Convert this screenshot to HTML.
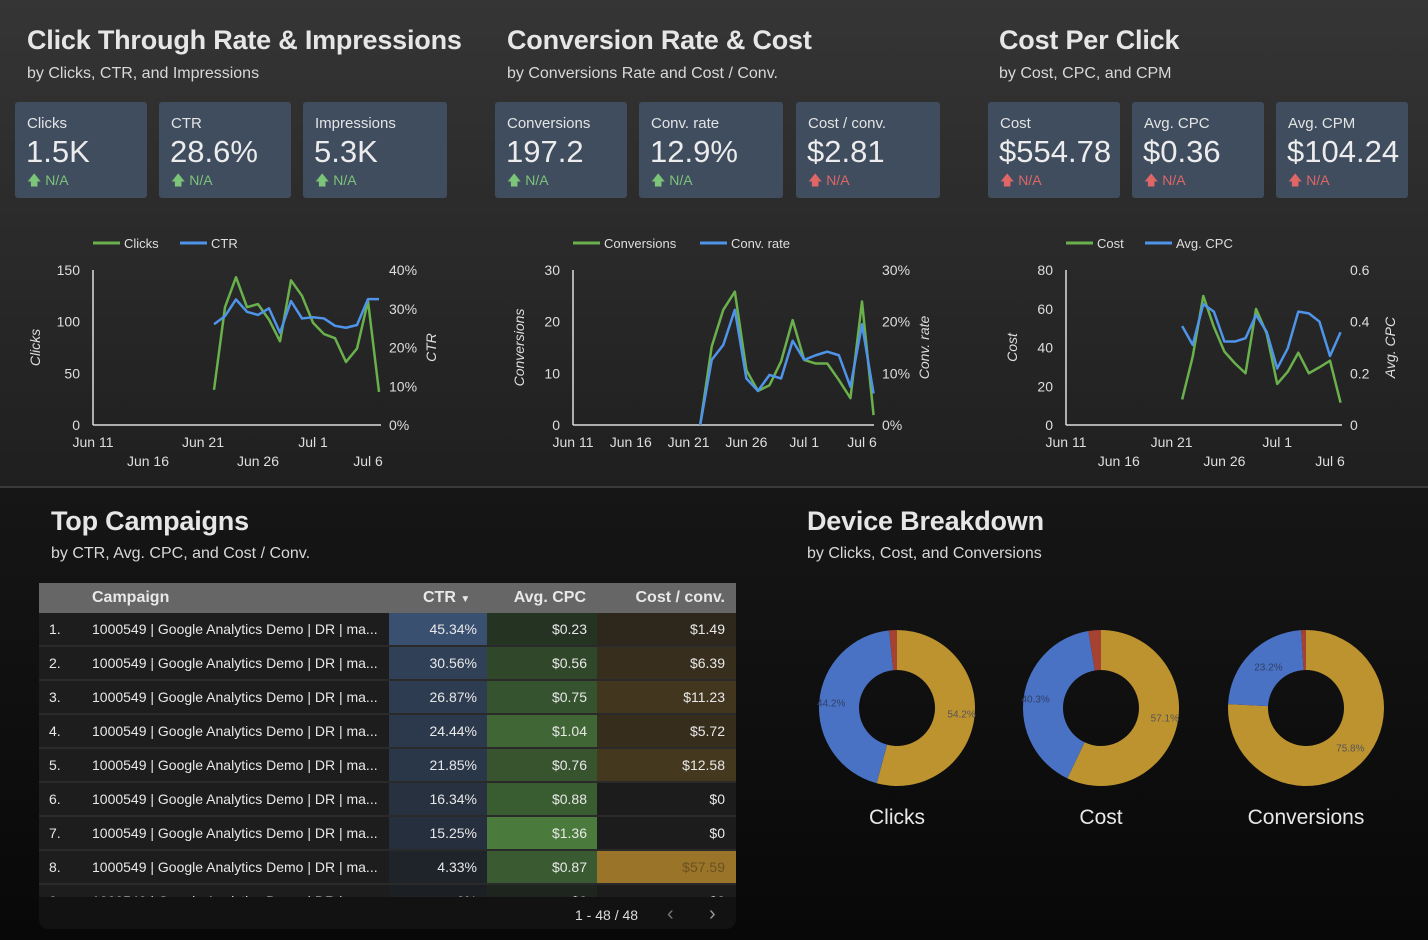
<!DOCTYPE html>
<html><head><meta charset="utf-8">
<style>
*{margin:0;padding:0;box-sizing:border-box}
body{width:1428px;height:940px;overflow:hidden;font-family:"Liberation Sans",sans-serif;color:#e8e8e8;position:relative;background:#0c0c0c}
#top{position:absolute;left:0;top:0;width:1428px;height:487px;background:linear-gradient(#353535,#1f1f1f)}
#bot{position:absolute;left:0;top:488px;width:1428px;height:452px;background:linear-gradient(#161616,#080808)}
#sep{position:absolute;left:0;top:486px;width:1428px;height:2px;background:#3a3a3a}
.t{position:absolute;font-weight:bold;font-size:27px;color:#e6e6e6;white-space:nowrap;letter-spacing:-0.2px}
.s{position:absolute;font-size:16px;color:#d8d8d8;white-space:nowrap}
.card{position:absolute;top:102px;height:96px;background:#3f4d5f;border-radius:3px}
.card .l{position:absolute;left:12px;top:13px;font-size:15px;color:#e4e4e4}
.card .v{position:absolute;left:11px;top:32px;font-size:31px;color:#ececec}
.card .n{position:absolute;left:12px;top:68px;font-size:14px}
.up{color:#7cc47a}.dn{color:#e06666}
svg text{font-family:"Liberation Sans",sans-serif}
#tbl{position:absolute;left:39px;top:583px;width:697px;height:346px;background:#121212;border-radius:0 0 10px 10px;overflow:hidden}
.row{position:absolute;left:0;width:697px;height:34px;background:#1d1d1d;border-bottom:2px solid #2a2a2a;font-size:14px}
.row div{position:absolute;top:0;height:32px;line-height:32px;white-space:nowrap}
.hdr{position:absolute;left:0;top:0;width:697px;height:30px;background:#666;font-weight:bold;font-size:16px}
.hdr div{position:absolute;top:0;line-height:30px}
</style></head><body>
<div id="top"></div>
<div id="sep"></div>
<div id="bot"></div>

<div class="t" style="left:27px;top:25px">Click Through Rate &amp; Impressions</div>
<div class="s" style="left:27px;top:65px">by Clicks, CTR, and Impressions</div>
<div class="t" style="left:507px;top:25px">Conversion Rate &amp; Cost</div>
<div class="s" style="left:507px;top:65px">by Conversions Rate and Cost / Conv.</div>
<div class="t" style="left:999px;top:25px">Cost Per Click</div>
<div class="s" style="left:999px;top:65px">by Cost, CPC, and CPM</div>

<div class="card" style="left:15px;width:132px"><div class="l">Clicks</div><div class="v">1.5K</div><div class="n up">&#129093; N/A</div></div>
<div class="card" style="left:159px;width:132px"><div class="l">CTR</div><div class="v">28.6%</div><div class="n up">&#129093; N/A</div></div>
<div class="card" style="left:303px;width:144px"><div class="l">Impressions</div><div class="v">5.3K</div><div class="n up">&#129093; N/A</div></div>
<div class="card" style="left:495px;width:132px"><div class="l">Conversions</div><div class="v">197.2</div><div class="n up">&#129093; N/A</div></div>
<div class="card" style="left:639px;width:144px"><div class="l">Conv. rate</div><div class="v">12.9%</div><div class="n up">&#129093; N/A</div></div>
<div class="card" style="left:796px;width:144px"><div class="l">Cost / conv.</div><div class="v">$2.81</div><div class="n dn">&#129093; N/A</div></div>
<div class="card" style="left:988px;width:132px"><div class="l">Cost</div><div class="v">$554.78</div><div class="n dn">&#129093; N/A</div></div>
<div class="card" style="left:1132px;width:132px"><div class="l">Avg. CPC</div><div class="v">$0.36</div><div class="n dn">&#129093; N/A</div></div>
<div class="card" style="left:1276px;width:132px"><div class="l">Avg. CPM</div><div class="v">$104.24</div><div class="n dn">&#129093; N/A</div></div>

<svg id="charts" width="1428" height="487" style="position:absolute;left:0;top:0"></svg>

<div class="t" style="left:51px;top:506px">Top Campaigns</div>
<div class="s" style="left:51px;top:545px">by CTR, Avg. CPC, and Cost / Conv.</div>
<div class="t" style="left:807px;top:506px">Device Breakdown</div>
<div class="s" style="left:807px;top:545px">by Clicks, Cost, and Conversions</div>

<div id="tbl">
 <div class="hdr">
  <div style="left:53px">Campaign</div>
  <div style="left:384px">CTR <span style="font-size:10px">&#9660;</span></div>
  <div style="right:150px">Avg. CPC</div>
  <div style="right:11px">Cost / conv.</div>
 </div>
 <div id="rows"></div>
 <div id="pl" style="position:absolute;left:536px;top:324px;font-size:14px;color:#ddd">1 - 48 / 48</div>
 <div id="pp" style="position:absolute;left:628px;top:320px;font-size:20px;color:#777">&#8249;</div>
 <div id="np" style="position:absolute;left:670px;top:320px;font-size:20px;color:#999">&#8250;</div>
</div>

<svg id="donuts" width="700" height="260" style="position:absolute;left:780px;top:610px"></svg>

<script>
const NS='http://www.w3.org/2000/svg';
// ---- chart data ----
const dayLabelsTop=['Jun 16','Jun 26','Jul 6'];
const dayLabelsBottom=['Jun 11','Jun 21','Jul 1'];
const seriesStartDay=11; // Jun 22 offset from Jun 11
const clicks=[34,114,143,114,117,102,81,140,125,99,88,84,61,74,120,32];
const ctr=[26.0,28.1,32.4,29.2,28.4,30.1,23.8,32.0,27.5,27.8,27.5,25.6,25.1,25.8,32.5,32.5];
const conversions=[0,15.2,22.3,25.8,10.6,6.6,7.7,12.3,20.3,12.6,11.9,11.9,8.7,5.2,23.9,1.9];
const convRate=[0,12.6,15.5,22.3,9.0,6.6,9.7,9.0,16.3,12.6,13.5,14.2,13.5,7.4,19.5,6.1];
const cost=[13.2,35.3,66.6,50.7,37.9,31.8,26.7,59.9,47.3,21.2,27.5,37.3,26.7,29.8,33.2,11.5];
const avgCpc=[0.383,0.310,0.468,0.439,0.323,0.323,0.336,0.426,0.361,0.219,0.297,0.439,0.432,0.400,0.267,0.359];
const ticks1L=['0','50','100','150'],ticks1R=['0%','10%','20%','30%','40%'];
const ticks2L=['0','10','20','30'],ticks2R=['0%','10%','20%','30%'];
const ticks3L=['0','20','40','60','80'],ticks3R=['0','0.2','0.4','0.6'];
// ---- table data ----
const ctrVals=[45.34,30.56,26.87,24.44,21.85,16.34,15.25,4.33,0];
const cpcVals=[0.23,0.56,0.75,1.04,0.76,0.88,1.36,0.87,0];
const costConv=[1.49,6.39,11.23,5.72,12.58,0,0,57.59,0];
// ---- donut data ----
const donutNames=['Clicks','Cost','Conversions'];
const donutGold=[54.2,57.1,75.8];
const donutBlue=[44.2,40.3,23.2];
const donutRed=[1.6,2.6,1.0];

const svg=document.getElementById('charts');
function mk(tag,attrs,parent){const e=document.createElementNS(NS,tag);for(const k in attrs)e.setAttribute(k,attrs[k]);(parent||svg).appendChild(e);return e;}
function txt(x,y,s,anchor,parent,extra){const e=mk('text',Object.assign({x:x,y:y,'text-anchor':anchor||'start',fill:'#dedede','font-size':14},extra||{}),parent);e.textContent=s;return e;}

function chart(cfg){
 const x0=cfg.x0,px=cfg.px,yT=270,yB=425;
 const g=mk('g',{});
 
 
 const xS=d=>x0+d*px;
 const yL=v=>yB-(v/cfg.maxL)*(yB-yT);
 const yR=v=>yB-(v/cfg.maxR)*(yB-yT);
 mk('line',{x1:x0,y1:yT,x2:x0,y2:yB,stroke:'#ddd','stroke-width':1.5},g);
 mk('line',{x1:x0,y1:yB,x2:cfg.xEnd,y2:yB,stroke:'#ddd','stroke-width':1.5},g);
 cfg.tl.forEach((t,i)=>txt(x0-13,yB-i*(yB-yT)/(cfg.tl.length-1)+5,t,'end',g));
 cfg.tr.forEach((t,i)=>txt(cfg.xEnd+8,yB-i*(yB-yT)/(cfg.tr.length-1)+5,t,'start',g));
 if(cfg.single){
   ['Jun 11','Jun 16','Jun 21','Jun 26','Jul 1','Jul 6'].forEach((t,i)=>txt(xS(i*5),447,t,'middle',g));
 } else {
   dayLabelsBottom.forEach((t,i)=>txt(xS(i*10),447,t,'middle',g));
   dayLabelsTop.forEach((t,i)=>txt(xS(5+i*10),466,t,'middle',g));
 }
 const yl=txt(0,0,cfg.lt,'middle',g,{'font-style':'italic'});yl.setAttribute('transform',`translate(${cfg.ltx},${(yT+yB)/2}) rotate(-90)`);
 const yr=txt(0,0,cfg.rt,'middle',g,{'font-style':'italic'});yr.setAttribute('transform',`translate(${cfg.rtx},${(yT+yB)/2}) rotate(-90)`);
 mk('line',{x1:cfg.lg,y1:243,x2:cfg.lg+27,y2:243,stroke:'#6ab04c','stroke-width':3},g);
 txt(cfg.lg+31,248,cfg.n1,'start',g,{'font-size':13});
 mk('line',{x1:cfg.lg2,y1:243,x2:cfg.lg2+27,y2:243,stroke:'#4f94e8','stroke-width':3},g);
 txt(cfg.lg2+31,248,cfg.n2,'start',g,{'font-size':13});
 const p1=cfg.s1.map((v,i)=>xS(seriesStartDay+i)+','+yL(v)).join(' ');
 const p2=cfg.s2.map((v,i)=>xS(seriesStartDay+i)+','+yR(v)).join(' ');
 const l1=mk('polyline',{points:p1,fill:'none',stroke:'#6ab04c','stroke-width':2.5,'stroke-linejoin':'round'},g);
 
 
 const l2=mk('polyline',{points:p2,fill:'none',stroke:'#4f94e8','stroke-width':2.5,'stroke-linejoin':'round'},g);
 
 
}
chart({name:'clicks-ctr-chart',x0:93,px:11,xEnd:381,maxL:150,maxR:40,tl:ticks1L,tr:ticks1R,lt:'Clicks',rt:'CTR',ltx:40,rtx:436,lg:93,lg2:180,n1:'Clicks',n2:'CTR',s1:clicks,s2:ctr});
chart({name:'conversions-chart',x0:573,px:11.56,xEnd:874,maxL:30,maxR:30,tl:ticks2L,tr:ticks2R,lt:'Conversions',rt:'Conv. rate',ltx:524,rtx:929,lg:573,lg2:700,n1:'Conversions',n2:'Conv. rate',s1:conversions,s2:convRate,single:true});
chart({name:'cost-cpc-chart',x0:1066,px:10.56,xEnd:1342,maxL:80,maxR:0.6,tl:ticks3L,tr:ticks3R,lt:'Cost',rt:'Avg. CPC',ltx:1017,rtx:1395,lg:1066,lg2:1145,n1:'Cost',n2:'Avg. CPC',s1:cost,s2:avgCpc});

// table
function mix(a,b,t){t=Math.max(0,Math.min(1,t));const c=a.map((v,i)=>Math.round(v+(b[i]-v)*t));return `rgb(${c[0]},${c[1]},${c[2]})`;}
const rows=document.getElementById('rows');
const maxCtr=Math.max(...ctrVals),maxCpc=Math.max(...cpcVals),maxCost=Math.max(...costConv);
ctrVals.forEach((v,i)=>{
 const r=document.createElement('div');
 r.className='row';
 r.style.top=(30+i*34)+'px';
 
 
 const fmtCost=costConv[i]===0?'$0':'$'+costConv[i].toFixed(2);
 const fmtCtr=v===0?'0%':v.toFixed(2)+'%';
 const fmtCpc=cpcVals[i]===0?'$0':'$'+cpcVals[i].toFixed(2);
 const cc=costConv[i]===0?'#1c1c1c':mix([32,30,27],[154,116,40],costConv[i]/maxCost*1.0+(costConv[i]<maxCost?0.08:0));
 r.innerHTML=`<div style="left:10px">${i+1}.</div><div style="left:53px">1000549 | Google Analytics Demo | DR | ma...</div>`+
  `<div style="left:350px;width:98px;text-align:right;padding-right:10px;background:${mix([28,31,36],[58,80,112],v/maxCtr)}">${fmtCtr}</div>`+
  `<div style="left:448px;width:110px;text-align:right;padding-right:10px;background:${mix([30,36,30],[74,122,60],cpcVals[i]/maxCpc)}">${fmtCpc}</div>`+
  `<div style="left:558px;width:139px;text-align:right;padding-right:11px;background:${cc};${costConv[i]===maxCost?'color:#6a5220':''}">${fmtCost}</div>`;
 rows.appendChild(r);
});
const tbl=document.getElementById('tbl');
const fade=document.createElement('div');
fade.style.cssText='position:absolute;left:0;top:314px;width:697px;height:32px;background:#121212';


tbl.appendChild(fade);
tbl.appendChild(document.getElementById('pl'));
tbl.appendChild(document.getElementById('pp'));
tbl.appendChild(document.getElementById('np'));

// donuts
const dsvg=document.getElementById('donuts');
const centers=[117,321,526],cy=98,R=78,r0=38;
function arc(cx,a0,a1,col,g){
 const p=(a,rad)=>[cx+rad*Math.sin(a),cy-rad*Math.cos(a)];
 const [x1,y1]=p(a0,R),[x2,y2]=p(a1,R),[x3,y3]=p(a1,r0),[x4,y4]=p(a0,r0);
 const lg=(a1-a0)>Math.PI?1:0;
 return mk('path',{d:`M${x1},${y1}A${R},${R} 0 ${lg} 1 ${x2},${y2}L${x3},${y3}A${r0},${r0} 0 ${lg} 0 ${x4},${y4}Z`,fill:col},g);
}
donutNames.forEach((n,i)=>{
 const g=mk('g',{},dsvg);
 
 
 const cx=centers[i];
 const tot=donutGold[i]+donutBlue[i]+donutRed[i];
 const a=[0,donutGold[i]/tot*2*Math.PI];a.push(a[1]+donutBlue[i]/tot*2*Math.PI);a.push(2*Math.PI);
 arc(cx,a[0],a[1],'#bd9330',g);arc(cx,a[1],a[2],'#4a72c4',g);arc(cx,a[2],a[3],'#a54232',g);
 const mg=(a[0]+a[1])/2,mb=(a[1]+a[2])/2;
 const kg=i==2?0.75:0.5,kb=i==2?0.75:0.5;
 txt(cx+(r0+4+kg*10)*Math.sin(mg)*(i==2?1.3:1)+(i==2?0:18),cy-(r0+4)*Math.cos(mg)*(i==2?1.3:1)+4,donutGold[i]+'%','middle',g,{'font-size':10,fill:'#555'});
 txt(cx+(R-12)*Math.sin(mb)*(i==2?0.8:1),cy-(R-12)*Math.cos(mb)*(i==2?0.9:1)+4,donutBlue[i]+'%','middle',g,{'font-size':10,fill:'#2e3f66'});
 txt(cx,214,n,'middle',g,{'font-size':21,fill:'#e8e8e8'});
});
</script>
</body></html>
